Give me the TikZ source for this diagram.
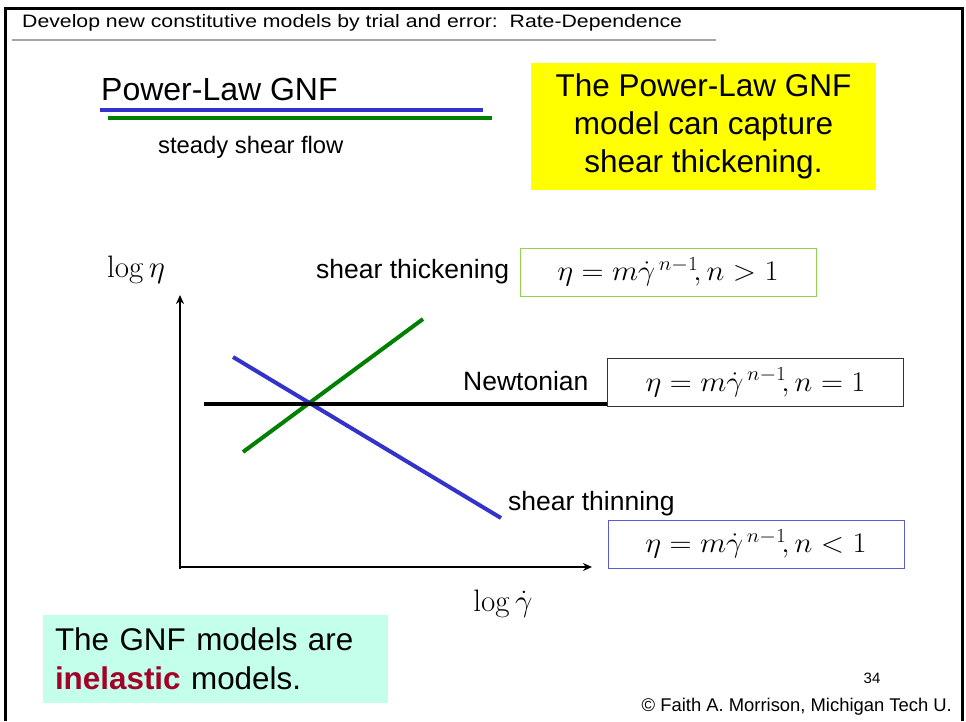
\RequirePackage{fix-cm}
\documentclass[tikz,border=0pt]{standalone}
\usepackage[no-math]{fontspec}
\setmainfont{Liberation Sans}
\usetikzlibrary{arrows.meta, calc}

\definecolor{slideblue}{RGB}{51,51,204}
\definecolor{slidegreen}{RGB}{0,128,0}
\definecolor{boxgreen}{RGB}{146,208,80}
\definecolor{boxblue}{RGB}{90,90,210}
\definecolor{noteyellow}{RGB}{255,255,0}
\definecolor{notecyan}{RGB}{196,255,236}
\definecolor{darkred}{RGB}{164,0,40}

\newcommand{\powerlaw}[1]{\scalebox{1.07}[1]{$\eta = m\dot\gamma^{\,n-1}\!, n #1 1$}}

\tikzset{
  eqbox/.style={draw, line width=1pt, minimum width=296pt, minimum height=48pt,
    inner sep=0pt, font=\fontsize{28.5}{32}\selectfont},
  curvelabel/.style={anchor=west, inner sep=0pt, font=\fontsize{26.5}{30}\selectfont},
  plotline/.style={line width=4pt}
}

\begin{document}
\begin{tikzpicture}[x=1pt, y=-1pt]
    \useasboundingbox (0,0) rectangle (966,721);

    % Draw the slide frame
    \draw[line width=3pt] (5,721) -- (5,8) -- (962,8) -- (962,721);

    % Add the header
    \node[anchor=west, inner sep=0pt, font=\fontsize{18}{20}\selectfont] (header) at (22,23)
      {\scalebox{1.18}[1]{Develop new constitutive models by trial and error:\ \ Rate-Dependence}};
    \draw[gray!70, line width=1.5pt] (12,40) -- (716,40);

    % Title and underlines
    \node[anchor=west, inner sep=0pt, font=\fontsize{32}{36}\selectfont] (title) at (101,89) {Power-Law GNF};
    \draw[slideblue, line width=4pt] (100,110) -- (483,110);
    \draw[slidegreen, line width=4pt] (108,118) -- (492,118);
    \node[anchor=west, inner sep=0pt, font=\fontsize{23.8}{26}\selectfont] (flow) at (158,147) {steady shear flow};

    % Yellow note
    \node[fill=noteyellow, minimum width=345pt, minimum height=127pt, align=center,
      font=\fontsize{31.5}{38}\selectfont] (note) at (703.5,126.5)
      {The Power-Law GNF\\model can capture\\shear thickening.};

    % Draw the axes
    \coordinate (O) at (180,567);
    \coordinate (ytip) at (180,295);
    \coordinate (xtip) at (592,567);
    \draw[line width=2pt, -{Stealth[length=9pt, width=8pt]}] ($(O)+(0,2)$) -- (ytip);
    \draw[line width=2pt, -{Stealth[length=9pt, width=8pt]}] ($(O)-(1,0)$) -- (xtip);
    \node[font=\fontsize{31}{34}\selectfont] (ylab) at (136,270) {$\log\eta$};
    \node[font=\fontsize{31}{34}\selectfont] (xlab) at (503,604) {$\log\dot\gamma$};

    % Draw the curves
    \coordinate (thickA) at (243,452);
    \coordinate (thickB) at (423,319);
    \coordinate (thinA) at (233,357);
    \coordinate (thinB) at (501,518);
    \coordinate (newtA) at (204,404);
    \draw[plotline, slidegreen] (thickA) -- (thickB);
    \draw[plotline, slideblue] (thinA) -- (thinB);

    % Labels and equations
    \node[curvelabel] (thicklab) at (316,272) {shear thickening};
    \node[eqbox, draw=boxgreen] (thickeq) at (668,272) {\powerlaw{>}};
    \node[curvelabel] (newtlab) at (463,381) {Newtonian};
    \node[eqbox, draw=black!80] (newteq) at (755.5,382.5) {\powerlaw{=}};
    \node[curvelabel] (thinlab) at (508,504) {shear thinning};
    \node[eqbox, draw=boxblue] (thineq) at (756,544) {\powerlaw{<}};
    \draw[plotline] (newtA) -- (newteq.west |- newtA);

    % Cyan note
    \node[fill=notecyan, minimum width=345pt, minimum height=88pt, text width=321pt,
      inner xsep=12pt, align=left, font=\fontsize{31.4}{39}\selectfont] (gnf) at (215.5,659)
      {The GNF models are\\{\color{darkred}\bfseries inelastic} models.};

    % Footer
    \node[font=\fontsize{15}{17}\selectfont] (page) at (872,678) {34};
    \node[anchor=east, inner sep=0pt, font=\fontsize{18.4}{20}\selectfont] (credit) at (952,707)
      {\textcopyright{} Faith A. Morrison, Michigan Tech U.};

\end{tikzpicture}
\end{document}
